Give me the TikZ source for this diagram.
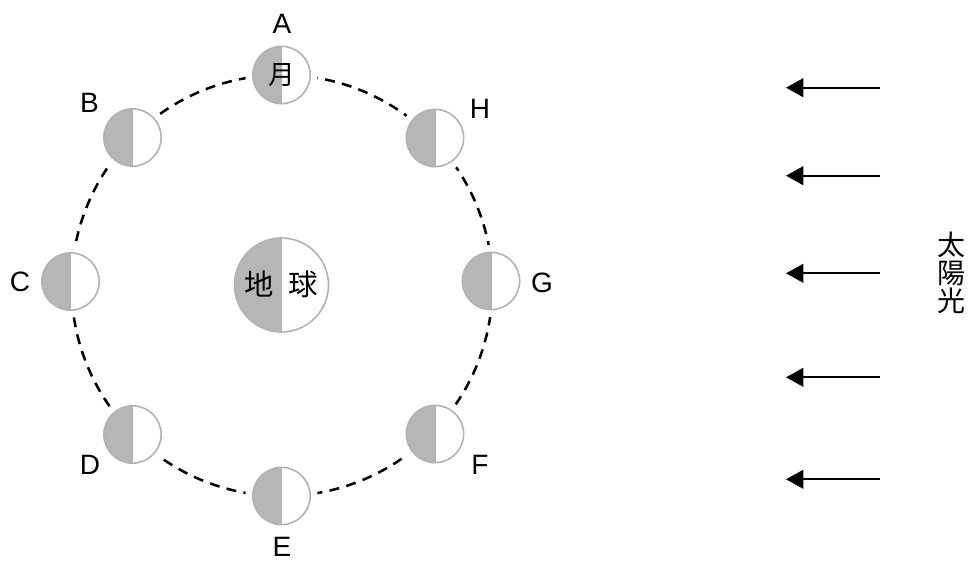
\documentclass[tikz,border=0pt]{standalone}
\usepackage{fontspec}
\setmainfont{Liberation Sans}
\newfontfamily\jpfont{Noto Sans CJK JP}
\usetikzlibrary{arrows.meta}
\definecolor{moonshade}{RGB}{181,182,181}
\definecolor{rimgray}{RGB}{178,178,178}
\tikzset{
  body/.style={circle, inner sep=0pt, draw=rimgray, line width=1.2pt, fill=white,
    path picture={
      \fill[moonshade] (path picture bounding box.south west) rectangle (path picture bounding box.north);
      \draw[rimgray, line width=1.2pt] (path picture bounding box.south) -- (path picture bounding box.north);}},
  moon/.style={body, minimum size=43pt, preaction={draw=white, line width=11pt}},
  earth/.style={body, minimum size=70.5pt},
  tag/.style={inner sep=0pt, font=\fontsize{21}{21}\selectfont},
  kanji/.style={inner sep=0pt, font=\jpfont\fontsize{#1}{#1}\selectfont},
  orbit/.style={line width=1.9pt, dash pattern=on 7.5pt off 5.5pt},
  ray/.style={line width=1.5pt, -{Triangle[length=13pt, width=14pt]}},
}
\begin{document}
\begin{tikzpicture}[x=0.75pt, y=0.75pt]
  \useasboundingbox (0,0) rectangle (968,561);
  % orbit of the moon
  \coordinate (O) at (282,275.5);
  \draw[orbit] (O) circle (210.5);
  % earth
  \node[earth] (earth) at (281.5,276) {};
  \node[kanji=22] (chi) at (259.5,277) {地};
  \node[kanji=22] (kyu) at (303.5,277) {球};
  % moons and their letters
  \foreach \name/\mx/\my/\lx/\ly in {A/281.5/486/282/537, B/132.5/423.5/89.5/458.5,
      C/70.5/279.5/20/279, D/132.5/126.5/90/96, E/281.5/65/282/14,
      F/435/127/480/96, G/491/280/542/278, H/435/423/480/452.5}
  {
    \node[moon] (moon\name) at (\mx,\my) {};
    \node[tag] (tag\name) at (\lx,\ly) {\name};
  }
  \node[kanji=20] (tsuki) at (moonA) {月};
  % sunlight
  \foreach \y [count=\i] in {473.3,385.3,287.7,183.7,81.7}
  {
    \coordinate (s\i) at (880,\y);
    \coordinate (t\i) at (786,\y);
    \draw[ray] (s\i) -- (t\i);
  }
  \node[kanji=21, align=center] (sun) at (951,288) {太\\陽\\光};
\end{tikzpicture}
\end{document}
